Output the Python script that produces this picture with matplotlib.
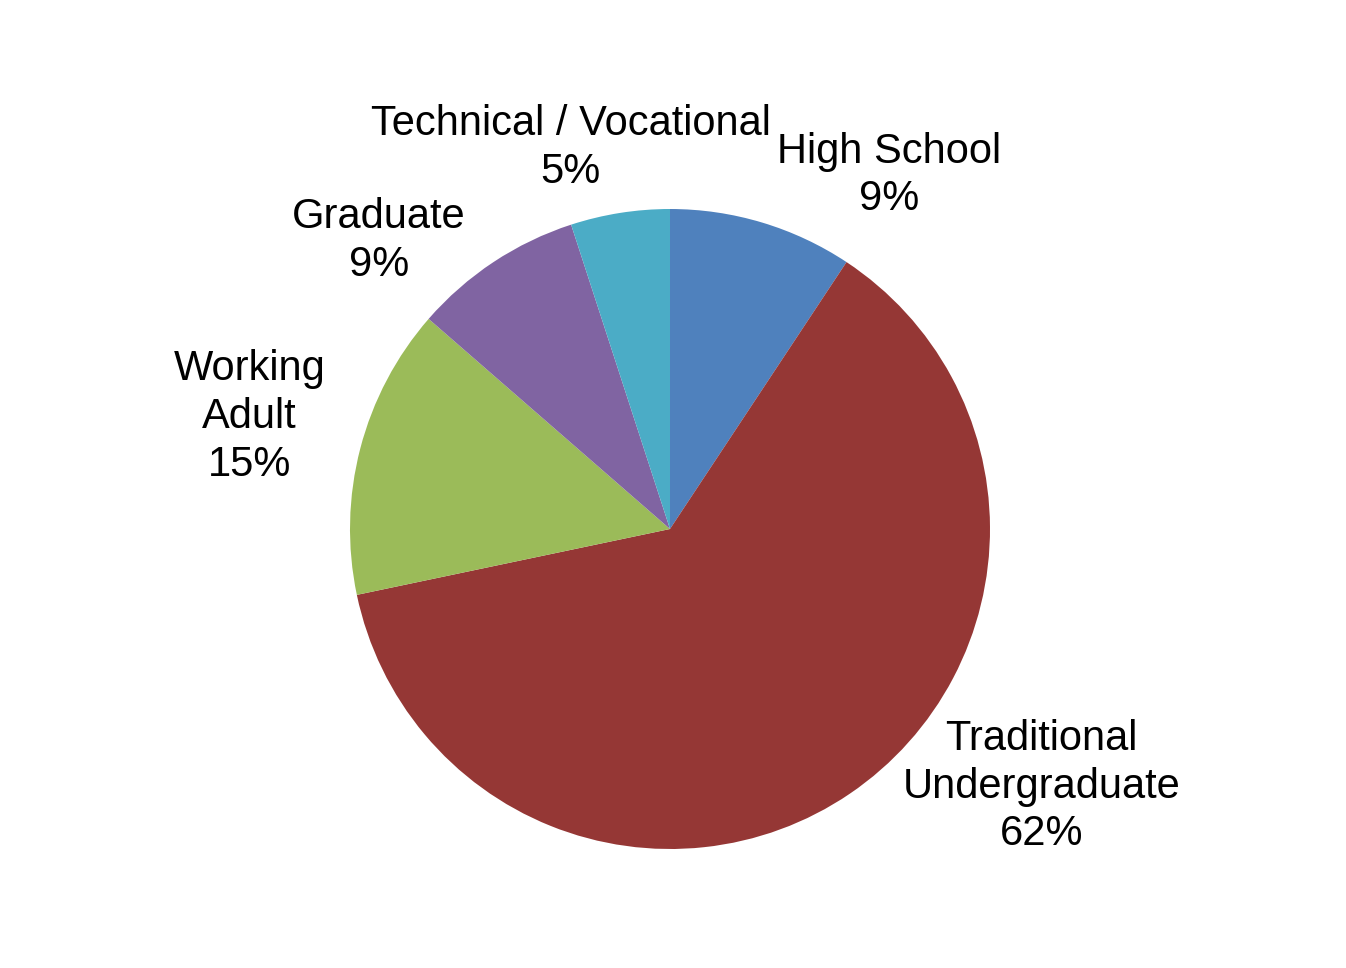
import matplotlib
matplotlib.use("Agg")
import matplotlib.pyplot as plt

categories = ["High School", "Traditional\nUndergraduate", "Working\nAdult", "Graduate", "Technical / Vocational"]
values = [9.3, 62.4, 14.7, 8.6, 5.0]
colors = ["#4F81BD", "#953735", "#9BBB59", "#8064A2", "#4BACC6"]
# label centres in data units (pie radius = 1)
label_pos = [(0.685, 1.105), (1.16, -0.805), (-1.315, 0.35), (-0.91, 0.9), (-0.31, 1.19)]

plt.rcParams['font.family'] = ['Liberation Sans', 'DejaVu Sans']

fig = plt.figure(figsize=(13.46, 9.68), dpi=100)
ax = fig.add_axes([0, 0, 1, 1])
ax.pie(values, colors=colors, startangle=90, counterclock=False, radius=1.0,
       wedgeprops=dict(linewidth=0))
ax.set_xlim(-670/320, (1346-670)/320)
ax.set_ylim((529-968)/320, 529/320)
ax.set_aspect('equal')
ax.axis('off')

total = sum(values)
for cat, v, (x, y) in zip(categories, values, label_pos):
    ax.text(x, y, f"{cat}\n{round(v/total*100):.0f}%", ha='center', va='center',
            fontsize=30, linespacing=1.25, color='black')

fig.savefig("out.png", dpi=100, facecolor='white')
